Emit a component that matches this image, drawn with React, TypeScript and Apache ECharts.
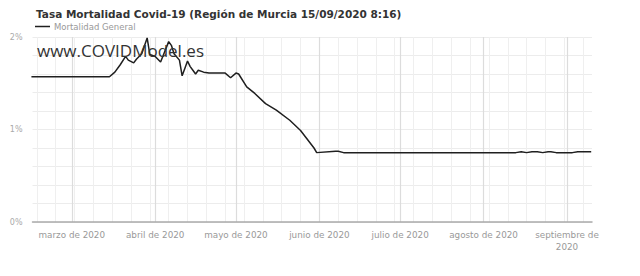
import React, { useEffect, useRef } from "react";
import * as echarts from "echarts";

// ---- data ----
const titleText = "Tasa Mortalidad Covid-19 (Región de Murcia 15/09/2020 8:16)";
const seriesName = "Mortalidad General";
const watermark = "www.COVIDModel.es";

const dates = [
  "2020-02-15", "2020-03-15", "2020-03-17", "2020-03-19", "2020-03-21", "2020-03-22",
  "2020-03-24", "2020-03-25", "2020-03-27", "2020-03-29", "2020-03-30", "2020-04-01",
  "2020-04-03", "2020-04-06", "2020-04-07", "2020-04-08", "2020-04-10", "2020-04-11",
  "2020-04-12", "2020-04-13", "2020-04-14", "2020-04-15", "2020-04-16", "2020-04-17",
  "2020-04-19", "2020-04-21", "2020-04-24", "2020-04-27", "2020-04-29", "2020-05-01",
  "2020-05-02", "2020-05-05", "2020-05-08", "2020-05-12", "2020-05-16", "2020-05-21",
  "2020-05-25", "2020-05-30", "2020-05-31", "2020-06-07", "2020-06-08", "2020-06-10",
  "2020-08-13", "2020-08-15", "2020-08-17", "2020-08-19", "2020-08-21", "2020-08-23",
  "2020-08-25", "2020-08-26", "2020-08-28", "2020-09-03", "2020-09-05", "2020-09-10",
];
const values = [
  1.57, 1.57, 1.62, 1.70, 1.79, 1.75,
  1.72, 1.76, 1.82, 1.99, 1.81, 1.79,
  1.73, 1.95, 1.91, 1.82, 1.75, 1.58,
  1.66, 1.74, 1.68, 1.64, 1.60, 1.64,
  1.62, 1.61, 1.61, 1.61, 1.56, 1.61,
  1.60, 1.46, 1.39, 1.28, 1.21, 1.10,
  0.99, 0.80, 0.75, 0.765, 0.765, 0.75,
  0.75, 0.76, 0.75, 0.76, 0.76, 0.75,
  0.76, 0.76, 0.75, 0.75, 0.76, 0.76,
];

const monthTicks = [
  "2020-03-01", "2020-04-01", "2020-05-01", "2020-06-01",
  "2020-07-01", "2020-08-01", "2020-09-01",
];
const monthLabels = [
  "marzo de 2020", "abril de 2020", "mayo de 2020", "junio de 2020",
  "julio de 2020", "agosto de 2020", "septiembre de\n2020",
];
const axisStart = "2020-02-15";
const axisEnd = "2020-09-10";
const weekStart = "2020-02-17"; // first Monday shown
const yTicks = [0, 1, 2];

// ---- helpers ----
const DAY = 86400000;
const ORIGIN = Date.parse(weekStart + "T00:00:00Z");
const toDay = (s: string) => (Date.parse(s + "T00:00:00Z") - ORIGIN) / DAY;

export default function App() {
  const ref = useRef<HTMLDivElement>(null);
  useEffect(() => {
    if (!ref.current) return;
    const chart = echarts.init(ref.current, undefined, { renderer: "svg" });
    const xmin = toDay(axisStart) + 0.4;
    const xmax = toDay(axisEnd) + 0.3;
    const weekly: number[] = [];
    for (let d = 0; d <= xmax; d += 7) weekly.push(d);
    const monthVals = monthTicks.map(toDay);
    const labelFor = (v: number) => {
      const i = monthVals.findIndex((m) => Math.abs(m - v) < 0.01);
      return i >= 0 ? monthLabels[i] : "";
    };
    const font = "DejaVu Sans, sans-serif";
    chart.setOption({
      animation: false,
      backgroundColor: "#ffffff",
      title: {
        text: titleText,
        left: 31,
        top: 3,
        textStyle: { fontFamily: "DejaVu Sans", fontWeight: "bold", fontSize: 10.5, color: "#333" },
      },
      legend: {
        left: 30,
        top: 17,
        icon: "rect",
        itemWidth: 15,
        itemHeight: 1.5,
        itemGap: 4,
        textStyle: { fontFamily: font, fontSize: 8.5, color: "#999", padding: [0, 0, 0, -1] },
        data: [seriesName],
      },
      grid: { left: 32.5, right: 48, top: 37, bottom: 54 },
      xAxis: [
        {
          type: "value",
          min: xmin,
          max: xmax,
          axisLine: { show: true, lineStyle: { color: "#aaa", width: 1.5 } },
          axisTick: { show: false, customValues: weekly },
          axisLabel: { show: false, customValues: weekly },
          splitLine: { show: true, lineStyle: { color: "#efefef", width: 1 } },
        },
        {
          type: "value",
          position: "bottom",
          min: xmin,
          max: xmax,
          axisLine: { show: false },
          axisTick: { show: false, customValues: monthVals },
          axisLabel: {
            show: true,
            customValues: monthVals,
            formatter: (v: number) => labelFor(v),
            fontFamily: font,
            fontSize: 8.8,
            color: "#999",
            margin: 7,
            lineHeight: 12,
            align: "center",
          },
          splitLine: { show: true, lineStyle: { color: "#dcdcdc", width: 1.2 } },
        },
      ],
      yAxis: {
        type: "value",
        min: 0,
        max: 2,
        interval: 0.2,
        axisLine: { show: false },
        axisTick: { show: false },
        axisLabel: {
          fontFamily: font,
          fontSize: 8,
          color: "#aaa",
          margin: 10,
          formatter: (v: number) => {
            const r = Math.round(v);
            return Math.abs(v - r) < 1e-6 && yTicks.includes(r) ? r + "%" : "";
          },
        },
        splitLine: { show: true, lineStyle: { color: "#ececec", width: 1 } },
      },
      series: [
        {
          name: seriesName,
          type: "line",
          xAxisIndex: 0,
          showSymbol: false,
          symbol: "none",
          lineStyle: { color: "#1f1f1f", width: 1.5 },
          itemStyle: { color: "#1f1f1f" },
          data: dates.map((d, i) => [toDay(d), values[i]]),
          z: 5,
        },
      ],
      graphic: [
        {
          type: "text",
          left: 37,
          top: 42,
          z: 100,
          style: {
            text: watermark,
            fontFamily: "Open Sans, sans-serif",
            fontSize: 17,
            fill: "#333",
          },
        },
      ],
    });
    return () => chart.dispose();
  }, []);
  return (
    <div
      ref={ref}
      style={{ position: "fixed", left: 0, top: 0, width: 640, height: 276 }}
    />
  );
}
